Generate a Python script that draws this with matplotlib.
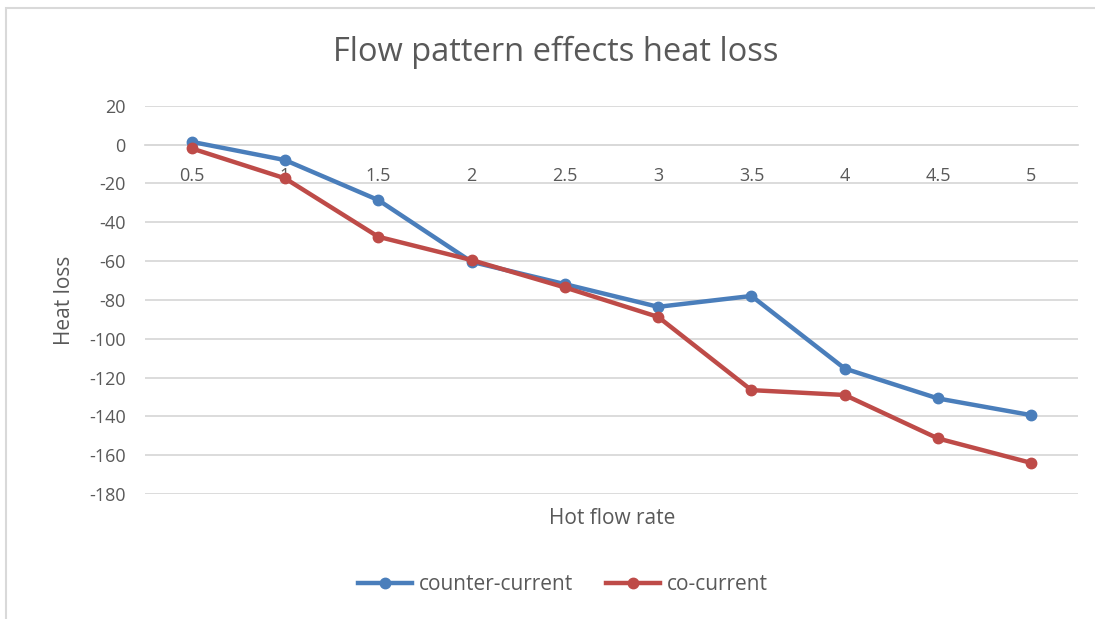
import numpy as np
import matplotlib.pyplot as plt
from matplotlib.patches import Rectangle

# chart data
flow_rates = ['0.5', '1', '1.5', '2', '2.5', '3', '3.5', '4', '4.5', '5']
counter_current = [1.4, -8, -28.6, -60.4, -71.9, -83.6, -78, -115.4, -130.8, -139.4]
co_current = [-2, -17.4, -47.5, -59.5, -73.6, -88.8, -126.5, -129, -151.4, -164]

blue = '#4a7ebb'
red = '#be4b48'
text_col = '#595959'
grid_col = '#d9d9d9'

plt.rcParams['font.family'] = ['Open Sans', 'DejaVu Sans']
plt.rcParams['axes.unicode_minus'] = False

fig = plt.figure(figsize=(10.95, 6.19), dpi=100)
# chart border
fig.patches.append(Rectangle((6/1095, -0.01), 1.0, 1 - 8/619 + 0.01, transform=fig.transFigure,
                             fill=False, edgecolor=grid_col, lw=1.5))

ax = fig.add_axes([145/1095, 1 - 494/619, (1078 - 145)/1095, (494 - 105.7)/619])
x = np.arange(len(flow_rates))

ax.plot(x, counter_current, color=blue, lw=3.2, marker='o', ms=7.5, label='counter-current',
        solid_joinstyle='round', zorder=3)
ax.plot(x, co_current, color=red, lw=3.2, marker='o', ms=7.5, label='co-current',
        solid_joinstyle='round', zorder=3)

ax.set_xlim(-0.5, len(flow_rates) - 0.5)
ax.set_ylim(-180, 20)
ax.set_yticks(np.arange(-180, 21, 20))
ax.yaxis.grid(True, color=grid_col, lw=1.3)
ax.set_axisbelow(True)

for s in ['top', 'right', 'left']:
    ax.spines[s].set_visible(False)
ax.spines['bottom'].set_position(('data', 0))
ax.spines['bottom'].set_color(grid_col)
ax.spines['bottom'].set_linewidth(1.3)

ax.set_xticks(x)
ax.set_xticklabels(flow_rates)
ax.tick_params(axis='x', length=0, pad=16, labelsize=13, labelcolor=text_col)
ax.tick_params(axis='y', length=0, pad=14, labelsize=13, labelcolor=text_col)

ax.set_ylabel('Heat loss', fontsize=15, color=text_col, labelpad=10)
fig.text(612/1095, 1 - 518/619, 'Hot flow rate', ha='center', va='center', fontsize=15, color=text_col)
fig.text(556/1095, 1 - 52/619, 'Flow pattern effects heat loss', ha='center', va='center',
         fontsize=23.5, color=text_col)

fig.legend(loc='center', bbox_to_anchor=(563/1095, 1 - 585/619), ncol=2, frameon=False,
           fontsize=15, labelcolor=text_col, handlelength=2.6, handletextpad=0.3,
           columnspacing=1.6)

fig.savefig('out.png', dpi=100, facecolor='white')
